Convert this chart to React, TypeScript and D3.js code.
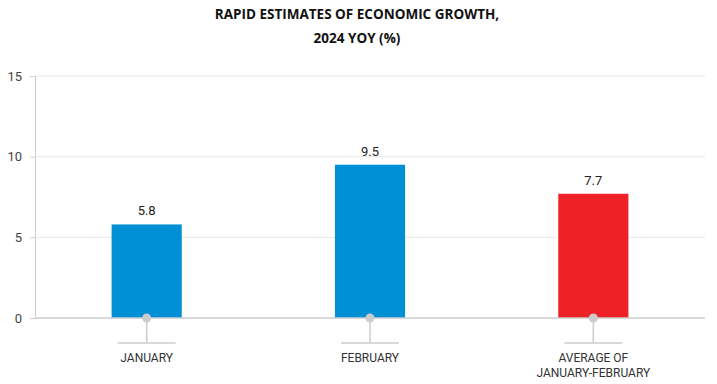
import React, { useRef, useEffect } from 'react';
import * as d3 from 'd3';

const categories = ['JANUARY', 'FEBRUARY', 'AVERAGE OF|JANUARY-FEBRUARY'];
const values = [5.8, 9.5, 7.7];
const barColors = ['#0090d5', '#0090d5', '#ee2127'];
const yTicks = [0, 5, 10, 15];
const titleLines = ['RAPID ESTIMATES OF ECONOMIC GROWTH,', '2024 YOY (%)'];

const W = 717;
const H = 384;

const App = () => {
    const svgRef = useRef<SVGSVGElement>(null);

    useEffect(() => {
        const svg = d3.select(svgRef.current);
        svg.selectAll('*').remove();

        const left = 35, right = 705, top = 76, bottom = 318;

        const x = d3.scaleBand<string>()
            .domain(categories)
            .range([left, right])
            .paddingInner(0.686)
            .paddingOuter(0.343);

        const y = d3.scaleLinear().domain([0, 15]).range([bottom, top]);

        // Title
        svg.append('g')
            .selectAll('text')
            .data(titleLines)
            .enter()
            .append('text')
            .attr('x', 357)
            .attr('y', (d, i) => 19 + i * 24)
            .attr('text-anchor', 'middle')
            .style('font-family', '"Open Sans", sans-serif')
            .style('font-weight', 700)
            .style('font-size', '13.5px')
            .style('fill', '#111')
            .text(d => d);

        // Grid lines
        svg.append('g')
            .selectAll('line')
            .data(yTicks.filter(t => t > 0))
            .enter()
            .append('line')
            .attr('x1', left)
            .attr('x2', right)
            .attr('y1', d => y(d))
            .attr('y2', d => y(d))
            .attr('stroke', '#e8e8e8')
            .attr('stroke-width', 1);

        // Y axis
        const yAxis = svg.append('g')
            .attr('transform', `translate(${left},0)`)
            .call(d3.axisLeft(y).tickValues(yTicks).tickSize(5).tickPadding(8).tickFormat(d3.format('d')));
        yAxis.select('.domain').attr('stroke', '#cccccc');
        yAxis.selectAll('.tick line').attr('stroke', '#cccccc');
        yAxis.selectAll('.tick text')
            .style('font-family', 'Roboto, sans-serif')
            .style('font-size', '13px')
            .style('fill', '#444');

        // Bars
        svg.append('g')
            .selectAll('rect')
            .data(values)
            .enter()
            .append('rect')
            .attr('x', (d, i) => x(categories[i])!)
            .attr('y', d => y(d))
            .attr('width', x.bandwidth())
            .attr('height', d => y(0) - y(d))
            .attr('fill', (d, i) => barColors[i]);

        // Baseline
        svg.append('line')
            .attr('x1', left)
            .attr('x2', right)
            .attr('y1', y(0))
            .attr('y2', y(0))
            .attr('stroke', '#cccccc')
            .attr('stroke-width', 1.5);

        // Value labels
        svg.append('g')
            .selectAll('text')
            .data(values)
            .enter()
            .append('text')
            .attr('x', (d, i) => x(categories[i])! + x.bandwidth() / 2)
            .attr('y', d => y(d) - 9)
            .attr('text-anchor', 'middle')
            .style('font-family', 'Roboto, sans-serif')
            .style('font-size', '13px')
            .style('fill', '#222')
            .text(d => d.toFixed(1));

        // Category markers and labels
        const cat = svg.append('g')
            .selectAll('g')
            .data(categories)
            .enter()
            .append('g')
            .attr('transform', d => `translate(${x(d)! + x.bandwidth() / 2},0)`);

        cat.append('line')
            .attr('x1', 0).attr('x2', 0)
            .attr('y1', y(0)).attr('y2', 343)
            .attr('stroke', '#cccccc')
            .attr('stroke-width', 1.5);
        cat.append('line')
            .attr('x1', -29).attr('x2', 29)
            .attr('y1', 343).attr('y2', 343)
            .attr('stroke', '#cccccc')
            .attr('stroke-width', 1.5);
        cat.append('circle')
            .attr('cx', 0)
            .attr('cy', y(0))
            .attr('r', 4.5)
            .attr('fill', '#cccccc');

        cat.each(function (d) {
            const lines = d.split('|');
            d3.select(this)
                .selectAll('text')
                .data(lines)
                .enter()
                .append('text')
                .attr('x', 0)
                .attr('y', (l, i) => 362 + i * 15)
                .attr('text-anchor', 'middle')
                .style('font-family', 'Roboto, sans-serif')
                .style('font-size', '12px')
                .style('fill', '#333')
                .text(l => l);
        });
    }, []);

    return (
        <div style={{ position: 'absolute', left: 0, top: 0 }}>
            <svg ref={svgRef} width={W} height={H} style={{ display: 'block' }}></svg>
        </div>
    );
};

export default App;
